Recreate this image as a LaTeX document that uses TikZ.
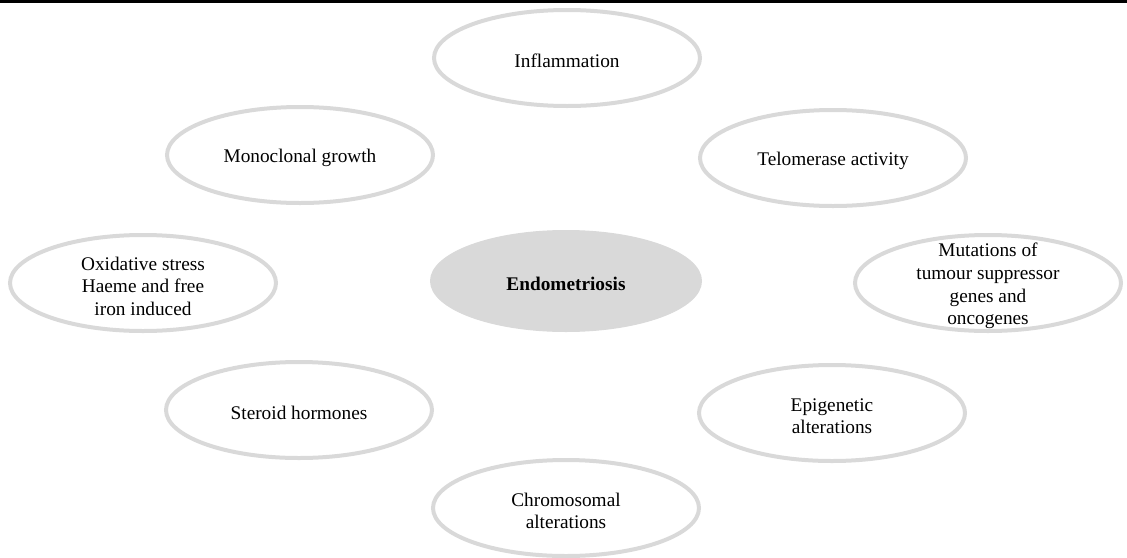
\documentclass[tikz,border=0pt]{standalone}
\usepackage{fontspec}
\setmainfont{Liberation Serif}
\usetikzlibrary{shapes.geometric}
\definecolor{ovalgray}{RGB}{217,217,217}
\tikzset{
  oval/.style={ellipse, draw=ovalgray, line width=4pt, minimum width=266pt, minimum height=96pt, inner sep=0pt},
  core/.style={ellipse, fill=ovalgray, draw=ovalgray, line width=1pt, minimum width=271pt, minimum height=101pt, inner sep=0pt},
  txt/.style={align=center, inner sep=0pt, yshift=-3pt, font=\fontsize{19.3}{22.6}\selectfont},
}
\begin{document}
\begin{tikzpicture}[x=1pt,y=-1pt]
\useasboundingbox (0,0) rectangle (1127,557);
\coordinate (ruleL) at (0,1.5);
\coordinate (ruleR) at (1127,1.5);
\draw[line width=3pt] (ruleL) -- (ruleR);

\node[oval] (infl) at (567,58) {};
\node[txt] (inflT) at (infl) {Inflammation};

\node[oval] (mono) at (300,155) {};
\node[txt] (monoT) at (mono) {Monoclonal growth};

\node[oval] (telo) at (833,158) {};
\node[txt] (teloT) at (telo) {Telomerase activity};

\node[oval] (oxid) at (143,283) {};
\node[txt] (oxidT) at (oxid) {Oxidative stress\\Haeme and free\\iron induced};

\node[core] (endo) at (566,281) {};
\node[txt, font=\fontsize{19.3}{22.6}\selectfont\bfseries] (endoT) at (endo) {Endometriosis};

\node[oval] (muta) at (988,283) {};
\node[txt] (mutaT) at (muta) {Mutations of\\tumour suppressor\\genes and\\oncogenes};

\node[oval] (ster) at (299,410) {};
\node[txt] (sterT) at (ster) {Steroid hormones};

\node[oval] (epig) at (832,413) {};
\node[txt] (epigT) at (epig) {Epigenetic\\alterations};

\node[oval] (chro) at (566,508) {};
\node[txt] (chroT) at (chro) {Chromosomal\\alterations};
\end{tikzpicture}
\end{document}
